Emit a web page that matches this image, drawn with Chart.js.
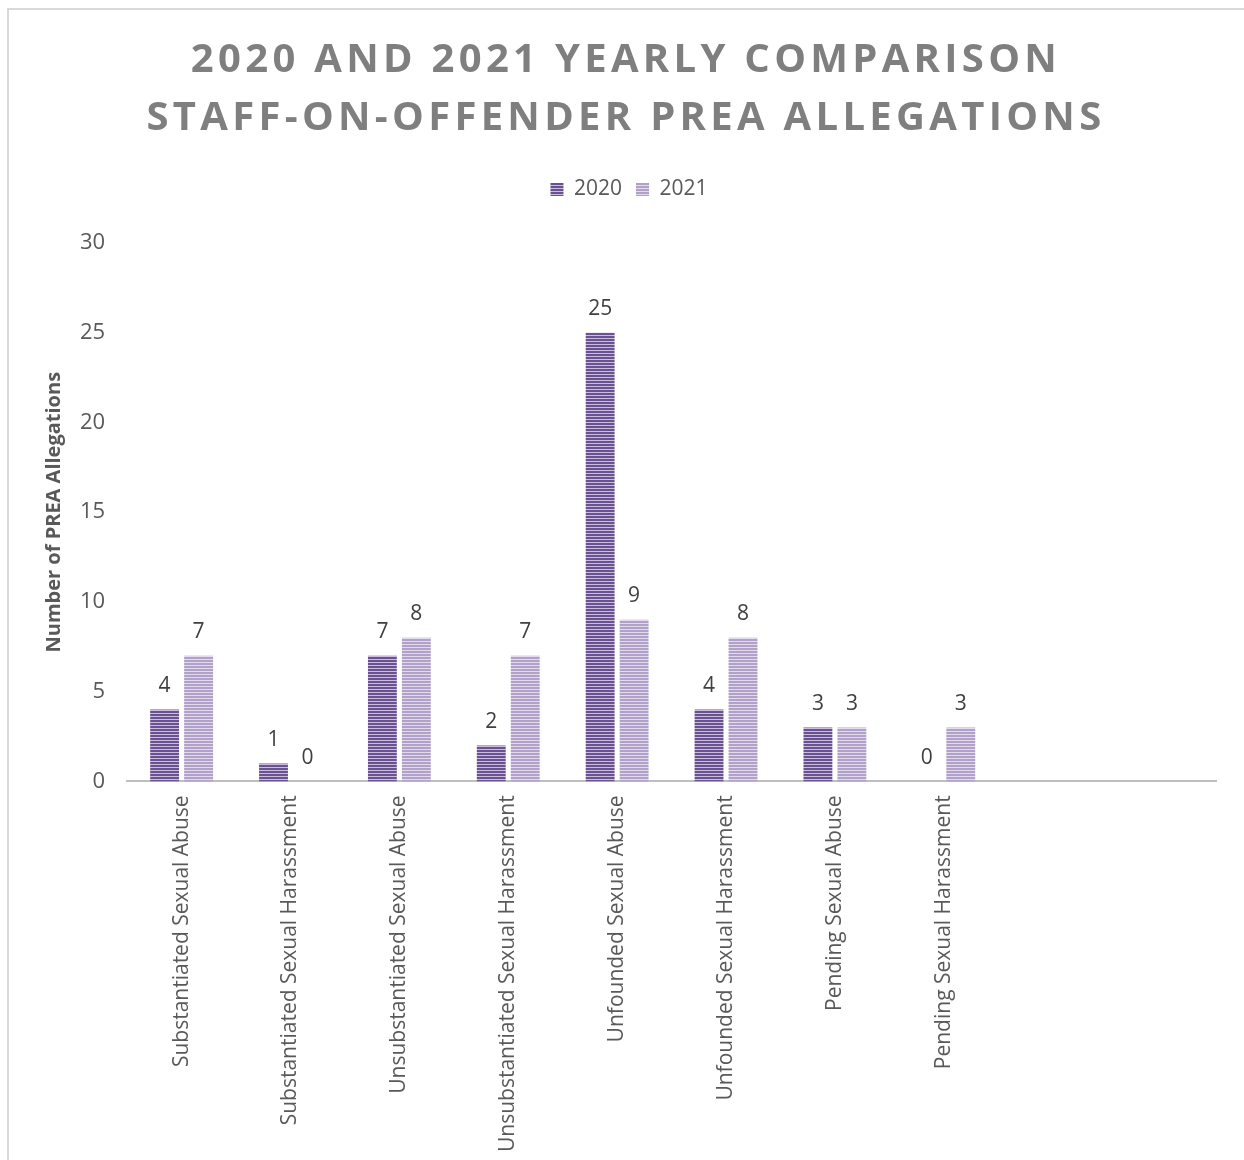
<!DOCTYPE html>
<html>
<head>
<meta charset="utf-8">
<script src="https://cdn.jsdelivr.net/npm/chart.js@4/dist/chart.umd.min.js"></script>
<style>
  html, body { margin: 0; padding: 0; background: #fff; }
  #frame { position: absolute; left: 7px; top: 8px; width: 1237px; height: 1152px;
           border-left: 2px solid #d9d9d9; border-top: 2px solid #d9d9d9; }
  #wrap { position: absolute; left: 0; top: 0; width: 1244px; height: 1160px; }
</style>
</head>
<body>
<div id="frame"></div>
<div id="wrap"><canvas id="chart_prea"></canvas></div>
<script>
var categories = [
    "Substantiated Sexual Abuse",
    "Substantiated Sexual Harassment",
    "Unsubstantiated Sexual Abuse",
    "Unsubstantiated Sexual Harassment",
    "Unfounded Sexual Abuse",
    "Unfounded Sexual Harassment",
    "Pending Sexual Abuse",
    "Pending Sexual Harassment",
    "",
    ""
];
var values_2020 = [4, 1, 7, 2, 25, 4, 3, 0, null, null];
var values_2021 = [7, 0, 8, 7, 9, 8, 3, 3, null, null];
var title_lines = ["2020 AND 2021 YEARLY COMPARISON", "STAFF-ON-OFFENDER PREA ALLEGATIONS"];
var y_ticks_max = 30;
var y_step = 5;

var FONT = "'Open Sans', 'Noto Sans', sans-serif";

function stripes(dark, light) {
    var c = document.createElement("canvas");
    c.width = 4; c.height = 3;
    var x = c.getContext("2d");
    x.fillStyle = light; x.fillRect(0, 0, 4, 3);
    x.fillStyle = dark; x.fillRect(0, 0, 4, 2);
    return x.createPattern(c, "repeat");
}

var titlePlugin = {
    id: "bigTitle",
    afterDraw: function(chart) {
        var ctx = chart.ctx;
        ctx.save();
        ctx.fillStyle = "#7f7f7f";
        ctx.font = "bold 40px " + FONT;
        ctx.letterSpacing = "4.3px";
        ctx.textAlign = "center";
        ctx.textBaseline = "middle";
        ctx.fillText(title_lines[0], 626, 61);
        ctx.fillText(title_lines[1], 626, 119);
        ctx.restore();
    }
};

var legendGap = {
    id: "legendGap",
    beforeInit: function(chart) {
        var fit = chart.legend.fit;
        chart.legend.fit = function() {
            fit.bind(chart.legend)();
            this.height += 33;
        };
    }
};

var valueLabels = {
    id: "valueLabels",
    afterDatasetsDraw: function(chart) {
        var ctx = chart.ctx;
        ctx.save();
        ctx.fillStyle = "#404040";
        ctx.font = "21px " + FONT;
        ctx.textAlign = "center";
        ctx.textBaseline = "bottom";
        chart.data.datasets.forEach(function(ds, i) {
            chart.getDatasetMeta(i).data.forEach(function(bar, j) {
                var v = ds.data[j];
                if (v === null || v === undefined) return;
                ctx.fillText(String(v), bar.x, bar.y - 13);
            });
        });
        ctx.restore();
    }
};

var ctx = document.getElementById("chart_prea").getContext("2d");
new Chart(ctx, {
    type: "bar",
    data: {
        labels: categories,
        datasets: [
            {
                label: "2020",
                data: values_2020,
                backgroundColor: stripes("#6a5190", "#c9bcdc"),
                borderWidth: 0
            },
            {
                label: "2021",
                data: values_2021,
                backgroundColor: stripes("#b1a1c9", "#e2dbec"),
                borderWidth: 0
            }
        ]
    },
    plugins: [titlePlugin, legendGap, valueLabels],
    options: {
        animation: false,
        responsive: true,
        maintainAspectRatio: false,
        layout: { padding: { top: 165, left: 42, right: 28, bottom: 2 } },
        datasets: {
            bar: { categoryPercentage: 0.624, barPercentage: 0.85 }
        },
        plugins: {
            title: { display: false },
            tooltip: { enabled: false },
            legend: {
                position: "top",
                labels: {
                    boxWidth: 13,
                    boxHeight: 13,
                    padding: 14,
                    color: "#595959",
                    font: { family: FONT, size: 21 }
                }
            }
        },
        scales: {
            x: {
                grid: { display: false },
                border: { display: true, color: "#bfbfbf", width: 2 },
                ticks: {
                    color: "#595959",
                    font: { family: FONT, size: 21 },
                    minRotation: 90,
                    maxRotation: 90,
                    autoSkip: false,
                    padding: 6
                }
            },
            y: {
                min: 0,
                max: y_ticks_max,
                grid: { display: false },
                border: { display: false },
                ticks: {
                    stepSize: y_step,
                    color: "#595959",
                    font: { family: FONT, size: 22 },
                    padding: 14
                },
                title: {
                    display: true,
                    text: "Number of PREA Allegations",
                    color: "#595959",
                    padding: { top: 0, bottom: 0 },
                    font: { family: FONT, size: 20, weight: "bold" }
                }
            }
        }
    }
});
</script>
</body>
</html>
